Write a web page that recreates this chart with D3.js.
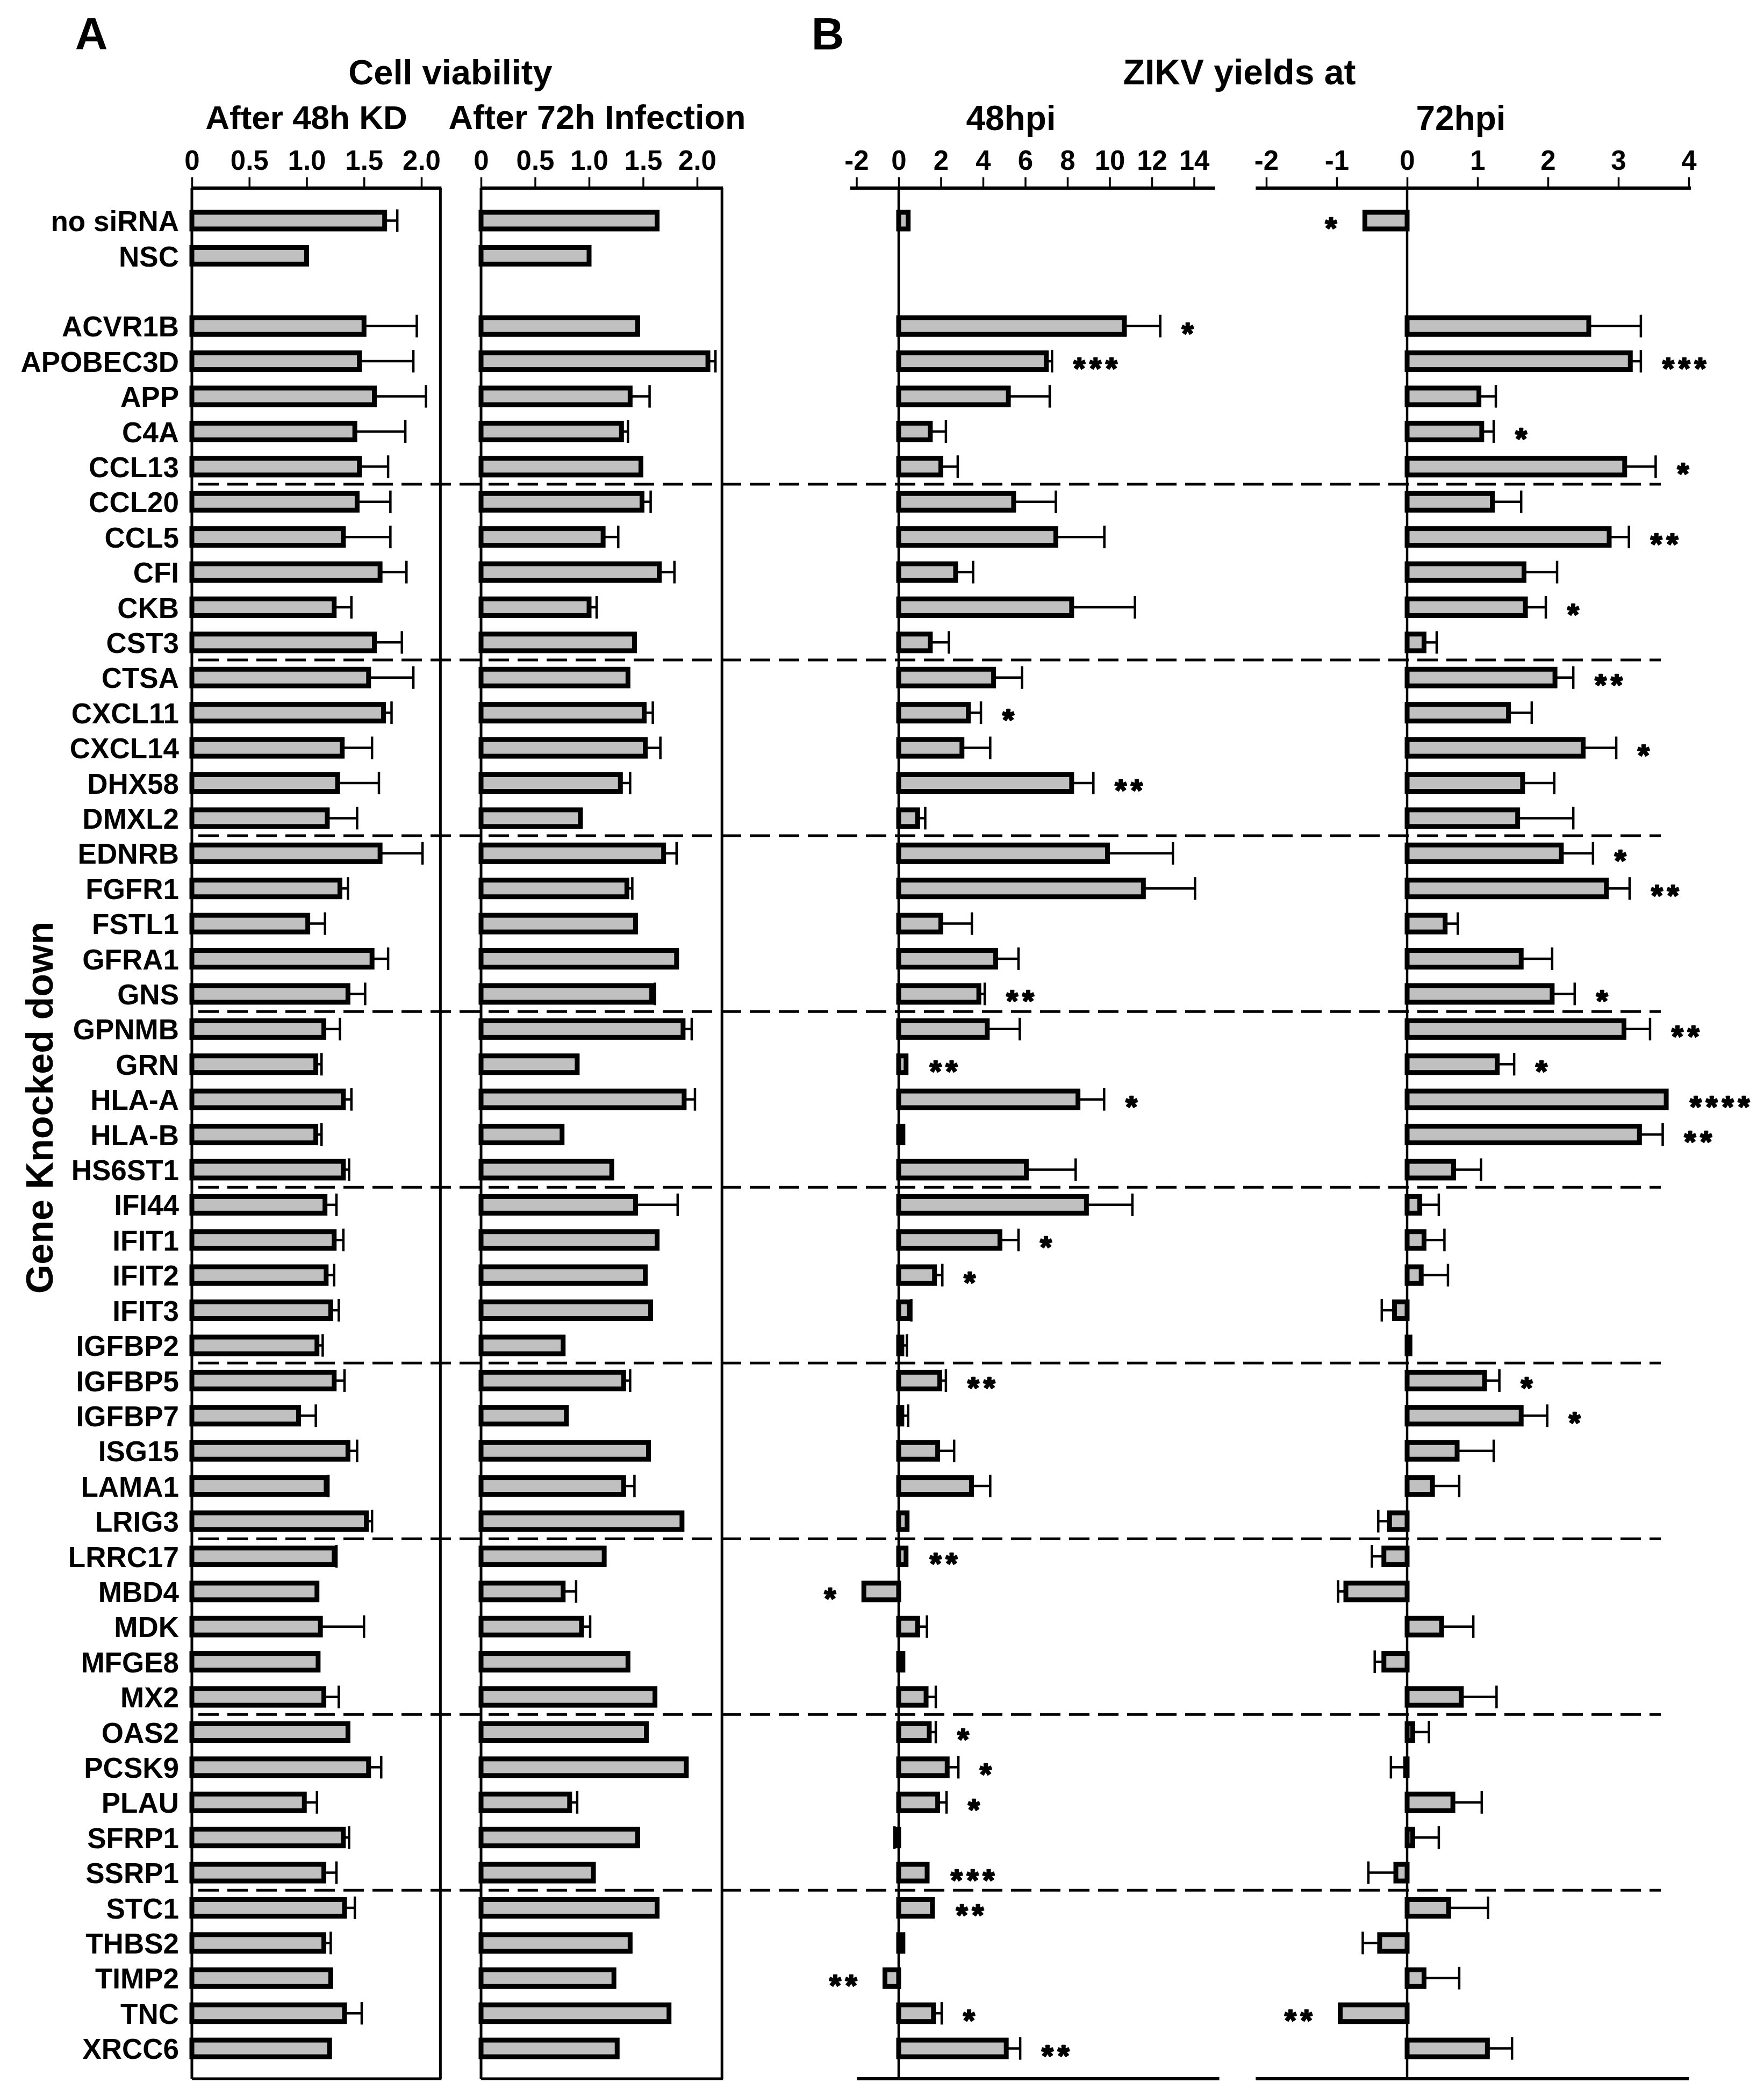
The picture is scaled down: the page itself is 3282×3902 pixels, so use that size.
<!DOCTYPE html>
<html>
<head>
<meta charset="utf-8">
<script src="https://cdn.jsdelivr.net/npm/d3@7"></script>
<style>
  html, body { margin: 0; padding: 0; background: #ffffff; }
  svg text { font-family: "Liberation Sans", Arial, sans-serif; font-weight: bold; fill: #000; }
</style>
</head>
<body>
<svg id="chart" width="3282" height="3902"></svg>
<script>
// ---------------- DATA ----------------
const controls = ["no siRNA", "NSC"];
const genes = ["ACVR1B","APOBEC3D","APP","C4A","CCL13","CCL20","CCL5","CFI","CKB","CST3",
  "CTSA","CXCL11","CXCL14","DHX58","DMXL2","EDNRB","FGFR1","FSTL1","GFRA1","GNS",
  "GPNMB","GRN","HLA-A","HLA-B","HS6ST1","IFI44","IFIT1","IFIT2","IFIT3","IGFBP2",
  "IGFBP5","IGFBP7","ISG15","LAMA1","LRIG3","LRRC17","MBD4","MDK","MFGE8","MX2",
  "OAS2","PCSK9","PLAU","SFRP1","SSRP1","STC1","THBS2","TIMP2","TNC","XRCC6"];

// Cell viability after 48h KD (controls first, then genes)
const viab48 = [1.68, 1.00,
  1.50,1.46,1.59,1.42,1.46,1.44,1.32,1.64,1.24,1.59,
  1.54,1.67,1.31,1.27,1.18,1.64,1.29,1.01,1.57,1.36,
  1.15,1.08,1.32,1.08,1.32,1.16,1.24,1.17,1.21,1.09,
  1.24,0.93,1.36,1.17,1.52,1.24,1.09,1.12,1.10,1.15,
  1.36,1.54,0.98,1.32,1.15,1.33,1.15,1.21,1.33,1.20];
const viab48Err = [0.11, 0,
  0.46,0.47,0.45,0.44,0.25,0.29,0.41,0.23,0.15,0.24,
  0.39,0.07,0.26,0.36,0.26,0.37,0.07,0.15,0.14,0.15,
  0.14,0.05,0.07,0.05,0.05,0.10,0.08,0.07,0.07,0.05,
  0.09,0.15,0.08,0.02,0.05,0.02,0,0.38,0,0.13,
  0,0.11,0.11,0.05,0.11,0.09,0.06,0,0.15,0];

// Cell viability after 72h infection
const viab72 = [1.63, 1.00,
  1.45,2.10,1.38,1.30,1.48,1.49,1.13,1.65,1.00,1.42,
  1.36,1.51,1.52,1.29,0.92,1.69,1.35,1.43,1.81,1.58,
  1.87,0.89,1.88,0.75,1.21,1.43,1.63,1.52,1.57,0.76,
  1.32,0.79,1.55,1.32,1.86,1.14,0.76,0.93,1.36,1.61,
  1.53,1.90,0.82,1.45,1.04,1.63,1.38,1.23,1.74,1.26];
const viab72Err = [0, 0,
  0,0.07,0.18,0.06,0,0.08,0.14,0.14,0.07,0,
  0,0.08,0.14,0.09,0,0.12,0.05,0,0,0.03,
  0.08,0,0.10,0,0,0.39,0,0,0,0,
  0.06,0,0,0.10,0,0,0.12,0.08,0,0,
  0,0,0.07,0,0,0,0,0,0,0];

// ZIKV yields at 48hpi (NSC has no bar)
const zikv48 = [0.45, null,
  10.7,7.0,5.2,1.5,2.0,5.45,7.45,2.7,8.2,1.5,
  4.5,3.3,3.0,8.2,0.9,9.9,11.6,2.0,4.6,3.8,
  4.2,0.35,8.5,0.2,6.05,8.9,4.8,1.7,0.5,0.15,
  1.95,0.15,1.85,3.45,0.4,0.35,-1.65,0.9,0.2,1.3,
  1.45,2.3,1.85,-0.05,1.35,1.6,0.2,-0.65,1.65,5.1];
const zikv48Err = [0, 0,
  1.7,0.27,1.96,0.74,0.8,2.0,2.3,0.83,3.0,0.88,
  1.35,0.6,1.34,1.03,0.36,3.1,2.45,1.47,1.08,0.28,
  1.54,0,1.24,0,2.34,2.18,0.88,0.37,0.1,0.24,
  0.29,0.3,0.78,0.89,0,0,0,0.44,0,0.46,
  0.31,0.53,0.42,0.15,0,0,0,0,0.39,0.66];

// ZIKV yields at 72hpi
const zikv72 = [-0.6, null,
  2.58,3.17,1.02,1.06,3.09,1.21,2.87,1.66,1.68,0.24,
  2.10,1.44,2.50,1.64,1.57,2.19,2.83,0.54,1.62,2.06,
  3.08,1.28,3.68,3.30,0.66,0.18,0.24,0.20,-0.18,0.04,
  1.10,1.62,0.71,0.36,-0.25,-0.33,-0.87,0.49,-0.33,0.77,
  0.08,-0.02,0.65,0.08,-0.16,0.59,-0.39,0.24,-0.95,1.14];
const zikv72Err = [0, 0,
  0.74,0.15,0.24,0.17,0.44,0.41,0.28,0.47,0.29,0.18,
  0.26,0.33,0.47,0.45,0.79,0.45,0.33,0.18,0.44,0.32,
  0.37,0.24,0,0.33,0.39,0.27,0.29,0.38,0.18,0,
  0.21,0.37,0.52,0.38,0.16,0.17,0.11,0.45,0.13,0.50,
  0.23,0.21,0.41,0.37,0.39,0.56,0.24,0.50,0,0.35];

// Significance marks
const sig48 = ["", "",
  "*","***","","","","","","","","",
  "","*","","**","","","","","","**",
  "","**","*","","","","*","*","","",
  "**","","","","","**","*","","","",
  "*","*","*","","***","**","","**","*","**"];
const sig72 = ["*", "",
  "","***","","*","*","","**","","*","",
  "**","","*","","","*","**","","","*",
  "**","*","****","**","","","","","","",
  "*","*","","","","","","","","",
  "","","","","","","","","**",""];

const ticksA = [0, 0.5, 1, 1.5, 2];
const tickLabelsA = ["0", "0.5", "1.0", "1.5", "2.0"];
const ticks48 = [-2, 0, 2, 4, 6, 8, 10, 12, 14];
const ticks72 = [-2, -1, 0, 1, 2, 3, 4];

// ---------------- LAYOUT ----------------
const svg = d3.select("#chart");
svg.append("rect").attr("width", 3282).attr("height", 3902).attr("fill", "#fff");

const rowLabels = controls.concat([" "], genes);
const y = d3.scalePoint().domain(rowLabels).range([410.5, 3811.6]);
const barH = 31, barStroke = 9, capHalf = 21;
const axisY = 350, bottomY = 3868;

const xA1 = d3.scaleLinear().domain([0, 2]).range([357, 784]);
const xA2 = d3.scaleLinear().domain([0, 2]).range([895, 1297]);
const xB1 = d3.scaleLinear().domain([0, 14]).range([1672, 2221.5]);
const xB2 = d3.scaleLinear().domain([0, 4]).range([2618, 3142]);

function rowsOf(vals, errs, sigs) {
  const names = controls.concat(genes);
  return names.map((n, i) => ({name: n, v: vals[i], e: errs[i], s: sigs ? sigs[i] : ""}))
              .filter(d => d.v !== null && d.v !== undefined);
}

function drawPanel(x, opts) {
  const g = svg.append("g");
  const ax = d3.axisTop(x).tickValues(opts.ticks).tickSize(20).tickPadding(14)
    .tickFormat((d, i) => opts.labels ? opts.labels[i] : String(d));
  const ag = g.append("g").attr("transform", `translate(0,${axisY})`).call(ax);
  ag.select(".domain").remove();
  ag.selectAll(".tick line").attr("stroke", "#000").attr("stroke-width", 3.5);
  ag.selectAll(".tick text").attr("font-size", 51).attr("fill", "#000")
    .style("font-family", '"Liberation Sans", Arial, sans-serif').style("font-weight", "bold");
  g.append("line").attr("x1", x(opts.axisExt[0])).attr("x2", x(opts.axisExt[1]))
    .attr("y1", axisY).attr("y2", axisY).attr("stroke", "#000").attr("stroke-width", 6);

  if (opts.box) {
    g.append("line").attr("x1", x(0)).attr("x2", x(0)).attr("y1", axisY).attr("y2", bottomY)
      .attr("stroke", "#000").attr("stroke-width", 5);
    g.append("line").attr("x1", x(opts.axisExt[1]) - 2).attr("x2", x(opts.axisExt[1]) - 2)
      .attr("y1", axisY).attr("y2", bottomY).attr("stroke", "#000").attr("stroke-width", 5);
    g.append("line").attr("x1", x(0)).attr("x2", x(opts.axisExt[1])).attr("y1", bottomY).attr("y2", bottomY)
      .attr("stroke", "#000").attr("stroke-width", 5);
  } else {
    g.append("line").attr("x1", x(0)).attr("x2", x(0)).attr("y1", axisY).attr("y2", bottomY)
      .attr("stroke", "#000").attr("stroke-width", 4.5);
    g.append("line").attr("x1", x(opts.bottomExt[0])).attr("x2", x(opts.bottomExt[1]))
      .attr("y1", bottomY).attr("y2", bottomY).attr("stroke", "#000").attr("stroke-width", 6);
  }
  return g;
}

function drawBars(g, x, data, gap) {
  const withErr = data.filter(d => d.e > 0);
  const endOf = d => d.v >= 0 ? d.v + d.e : d.v - d.e;
  g.selectAll(null).data(withErr).enter().append("line")
    .attr("x1", d => x(d.v)).attr("x2", d => x(endOf(d)))
    .attr("y1", d => y(d.name)).attr("y2", d => y(d.name))
    .attr("stroke", "#000").attr("stroke-width", 4.5);
  g.selectAll(null).data(withErr).enter().append("line")
    .attr("x1", d => x(endOf(d))).attr("x2", d => x(endOf(d)))
    .attr("y1", d => y(d.name) - capHalf).attr("y2", d => y(d.name) + capHalf)
    .attr("stroke", "#000").attr("stroke-width", 4.5);
  g.selectAll(null).data(data).enter().append("rect")
    .attr("x", d => Math.min(x(0), x(d.v)))
    .attr("width", d => Math.max(0.5, Math.abs(x(d.v) - x(0))))
    .attr("y", d => y(d.name) - barH / 2).attr("height", barH)
    .attr("fill", "#c0c0c0").attr("stroke", "#000").attr("stroke-width", barStroke);
  g.selectAll(null).data(data.filter(d => d.s)).enter().append("text")
    .attr("x", d => {
      const ext = d.v >= 0 ? Math.max(x(d.v) + 4, x(endOf(d))) : Math.min(x(d.v) - 4, x(endOf(d)));
      return d.v >= 0 ? ext + gap : ext - gap;
    })
    .attr("y", d => y(d.name) + 32)
    .attr("text-anchor", d => d.v >= 0 ? "start" : "end")
    .attr("font-size", 56).attr("letter-spacing", 8)
    .attr("stroke", "#000").attr("stroke-width", 2.5).attr("stroke-linejoin", "round")
    .text(d => d.s);
}

// dashed separators (every 5 genes)
const sepAfter = [4, 9, 14, 19, 24, 29, 34, 39, 44];
svg.append("g").selectAll("line").data(sepAfter).enter().append("line")
  .attr("x1", 369).attr("x2", 3090)
  .attr("y1", i => (y(genes[i]) + y(genes[i + 1])) / 2)
  .attr("y2", i => (y(genes[i]) + y(genes[i + 1])) / 2)
  .attr("stroke", "#000").attr("stroke-width", 5).attr("stroke-dasharray", "38,16");

const gA1 = drawPanel(xA1, {ticks: ticksA, labels: tickLabelsA, axisExt: [0, 2.175], box: true});
drawBars(gA1, xA1, rowsOf(viab48, viab48Err, null), 40);
const gA2 = drawPanel(xA2, {ticks: ticksA, labels: tickLabelsA, axisExt: [0, 2.24], box: true});
drawBars(gA2, xA2, rowsOf(viab72, viab72Err, null), 40);
const gB1 = drawPanel(xB1, {ticks: ticks48, axisExt: [-2.3, 15.0], bottomExt: [-1.98, 15.2], box: false});
drawBars(gB1, xB1, rowsOf(zikv48, zikv48Err, sig48), 40);
const gB2 = drawPanel(xB2, {ticks: ticks72, axisExt: [-2.15, 4.03], bottomExt: [-2.15, 4.0], box: false});
drawBars(gB2, xB2, rowsOf(zikv72, zikv72Err, sig72), 40);

// row labels
svg.append("g").selectAll("text").data(controls.concat(genes)).enter().append("text")
  .attr("x", 333).attr("y", d => y(d)).attr("dy", "0.37em")
  .attr("text-anchor", "end").attr("font-size", 53).text(d => d);

// titles
const T = (x, yy, s, size, rot) => {
  const t = svg.append("text").attr("x", x).attr("y", yy).attr("text-anchor", "middle")
    .attr("font-size", size).text(s);
  if (rot) t.attr("transform", `rotate(-90,${x},${yy})`);
  return t;
};
T(170, 92, "A", 84);
T(1540, 92, "B", 84);
T(838, 157, "Cell viability", 65);
T(570, 240, "After 48h KD", 62);
T(1111, 240, "After 72h Infection", 63);
T(2306, 157, "ZIKV yields at", 66);
T(1881, 242, "48hpi", 64);
T(2718, 242, "72hpi", 64);
T(98, 2061, "Gene Knocked down", 70, true);
</script>
</body>
</html>
